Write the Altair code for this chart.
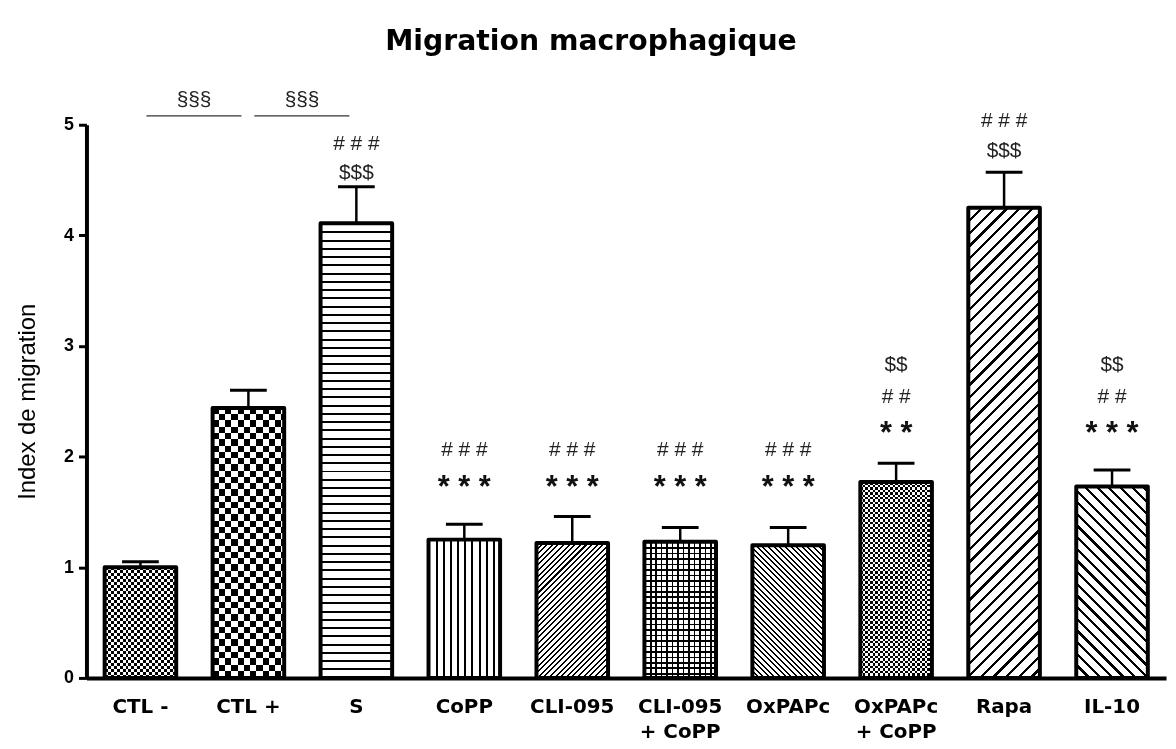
import math
import altair as alt
import pandas as pd

# ---------------- data ----------------
categories = ["CTL -", "CTL +", "S", "CoPP", "CLI-095", "CLI-095\n+ CoPP",
              "OxPAPc", "OxPAPc\n+ CoPP", "Rapa", "IL-10"]
means = [1.00, 2.44, 4.11, 1.25, 1.22, 1.23, 1.20, 1.77, 4.25, 1.73]
err_top = [1.05, 2.60, 4.44, 1.39, 1.46, 1.36, 1.36, 1.94, 4.57, 1.88]

sym_cats = ["S", "S", "Rapa", "Rapa", "CoPP", "CLI-095", "CLI-095\n+ CoPP", "OxPAPc",
            "OxPAPc\n+ CoPP", "OxPAPc\n+ CoPP", "IL-10", "IL-10"]
sym_text = ["# # #", "$$$", "# # #", "$$$", "# # #", "# # #", "# # #", "# # #",
            "$$", "# #", "$$", "# #"]
sym_y = [4.83, 4.56, 5.03, 4.76, 2.06, 2.06, 2.06, 2.06, 2.83, 2.54, 2.83, 2.54]

star_cats = ["CoPP", "CLI-095", "CLI-095\n+ CoPP", "OxPAPc", "OxPAPc\n+ CoPP", "IL-10"]
star_text = ["* * *", "* * *", "* * *", "* * *", "* *", "* * *"]
star_y = [1.78, 1.78, 1.78, 1.78, 2.27, 2.27]

bracket_from = ["CTL -", "CTL +"]
bracket_to = ["CTL +", "S"]
bracket_y = [5.08, 5.08]
bracket_text = ["§§§", "§§§"]
bracket_text_y = [5.22, 5.22]

y_ticks = [0, 1, 2, 3, 4, 5]
y_max = 5

# ---------------- layout / style ----------------
W, H = 1087, 557
PAD = {"left": 79, "top": 115, "right": 2, "bottom": 66}
PI = 0.337
PO = PI / 2
BW = W / len(categories) * (1 - PI)
PXU = H / y_max
FONT = "Liberation Sans, Arial, Helvetica, sans-serif"
WIDE = "DejaVu Sans, Verdana, sans-serif"
INK, PAPER = "#000000", "#ffffff"

# pattern of each bar: list of (direction, period px, ink fraction, blend)
patterns = {
    "CTL -": [("h", 6.0, 0.5, None), ("v", 6.0, 0.5, "difference")],
    "CTL +": [("h", 12.6, 0.5, None), ("v", 12.6, 0.5, "difference")],
    "S": [("h", 8.3, 0.24, None)],
    "CoPP": [("v", 7.2, 0.27, None)],
    "CLI-095": [("up", 4.0, 0.36, None)],
    "CLI-095\n+ CoPP": [("h", 5.5, 0.3, None), ("v", 5.5, 0.3, "multiply")],
    "OxPAPc": [("down", 4.0, 0.36, None)],
    "OxPAPc\n+ CoPP": [("h", 5.0, 0.5, None), ("v", 5.0, 0.5, "difference")],
    "Rapa": [("up", 9.0, 0.25, None)],
    "IL-10": [("down", 8.3, 0.27, None)],
}


def make_stops(n, ink):
    out = []
    k = 0
    while k < n:
        a = round(k / n, 5)
        b = round(min((k + ink) / n, 1.0), 5)
        c = round(min((k + 1) / n, 1.0), 5)
        out += [{"offset": a, "color": INK}, {"offset": b, "color": INK},
                {"offset": b, "color": PAPER}, {"offset": c, "color": PAPER}]
        k += 1
    return out


def make_gradient(direction, w, h, period, ink):
    if direction == "h":
        x1, y1, x2, y2, n = 0, 0, 0, 1, h / period
    elif direction == "v":
        x1, y1, x2, y2, n = 0, 0, 1, 0, w / period
    else:
        kk = (w + h) / (w * w + h * h)
        n = (w + h) / math.sqrt(2) / period
        if direction == "up":
            x1, y1, x2, y2 = 0, 0, w * kk, h * kk
        else:
            x1, y1, x2, y2 = 0, 1, w * kk, 1 - h * kk
    return {"gradient": "linear", "x1": x1, "y1": y1, "x2": x2, "y2": y2,
            "stops": make_stops(n, ink)}


# ---------------- encodings ----------------
x_axis = alt.Axis(title=None, labelExpr="split(datum.label, '\\n')", ticks=False,
                  labelAngle=0, labelFontSize=20, labelFontWeight="bold", labelFont=WIDE,
                  labelColor="black", labelPadding=19, labelLineHeight=25,
                  domainWidth=4, domainColor="black", labelBaseline="top")
x_scale = alt.Scale(domain=categories, paddingInner=PI, paddingOuter=PO)
x_enc = alt.X("cat:N", sort=categories, scale=x_scale, axis=x_axis)

y_axis = alt.Axis(title="Index de migration", values=y_ticks, format="d", grid=False,
                  labelFontSize=18, labelFontWeight="bold", labelFont=FONT,
                  labelColor="black", tickColor="black", tickWidth=3, tickSize=8,
                  domainColor="black", domainWidth=4, labelPadding=5,
                  titleFontSize=24, titleFontWeight="normal", titleFont=FONT,
                  titleColor="black", titlePadding=24)
y_scale = alt.Scale(domain=[0, y_max], nice=False)


def yenc(field):
    return alt.Y(f"{field}:Q", scale=y_scale, axis=y_axis)


bars_df = pd.DataFrame({"cat": categories, "mean": means, "upper": err_top})
sym_df = pd.DataFrame({"cat": sym_cats, "text": sym_text, "y": sym_y})
star_df = pd.DataFrame({"cat": star_cats, "text": star_text, "y": star_y})
br_df = pd.DataFrame({"cat": bracket_from, "cat2": bracket_to, "y": bracket_y,
                      "label": bracket_text, "ty": bracket_text_y})

layers = []
for c, m in zip(categories, means):
    hpx = m * PXU
    for direction, period, ink, blend in patterns[c]:
        kw = {"fill": make_gradient(direction, BW, hpx, period, ink),
              "strokeWidth": 0, "opacity": 1}
        if blend:
            kw["blend"] = blend
        layers.append(
            alt.Chart(bars_df)
            .transform_filter(alt.FieldEqualPredicate(field="cat", equal=c))
            .mark_bar(**kw)
            .encode(x=x_enc, y=yenc("mean"))
        )

outline = alt.Chart(bars_df).mark_bar(
    fillOpacity=0, stroke="black", strokeWidth=4, strokeJoin="round", opacity=1
).encode(x=x_enc, y=yenc("mean"))

stem = alt.Chart(bars_df).mark_rule(strokeWidth=2.5, color="black").encode(
    x=x_enc, y=yenc("mean"), y2=alt.Y2("upper"))
cap = alt.Chart(bars_df).mark_tick(
    orient="horizontal", size=37, thickness=3, color="black", opacity=1
).encode(x=x_enc, y=yenc("upper"))

syms = alt.Chart(sym_df).mark_text(
    font=FONT, fontSize=21, color="#222222", baseline="middle", align="center"
).encode(x=x_enc, y=yenc("y"), text="text:N")

stars = alt.Chart(star_df).mark_text(
    font=FONT, fontSize=31, fontWeight="bold", color="#111111", baseline="middle",
    align="center", dy=7
).encode(x=x_enc, y=yenc("y"), text="text:N")

brackets = alt.Chart(br_df).mark_rule(
    xOffset=6, x2Offset=-7, strokeWidth=1.3, color="#333333"
).encode(x=x_enc, x2=alt.X2("cat2"), y=yenc("y"))

br_text = alt.Chart(br_df).mark_text(
    font=FONT, fontSize=21, color="#222222", baseline="middle", align="center", dx=54
).encode(x=x_enc, y=yenc("ty"), text="label:N")

chart = alt.layer(
    *layers, outline, stem, cap, syms, stars, brackets, br_text
).properties(
    width=W, height=H,
    title=alt.TitleParams("Migration macrophagique", fontSize=28.5, fontWeight="bold",
                          font=WIDE, color="black", offset=34, anchor="middle",
                          frame="bounds"),
    autosize=alt.AutoSizeParams(type="none"),
    padding=PAD,
).configure_view(stroke=None)

chart.save("out.html", embed_options={"renderer": "svg", "actions": False})
